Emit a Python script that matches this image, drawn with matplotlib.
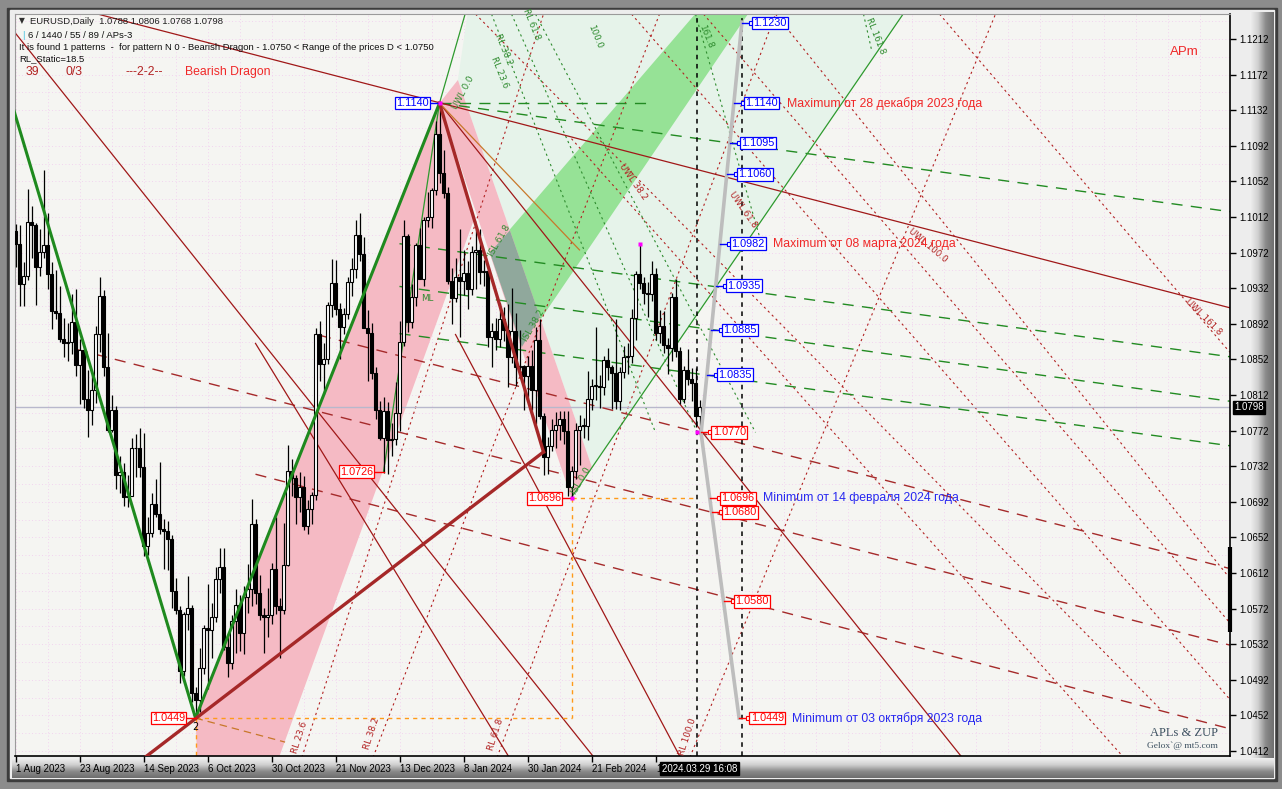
import numpy as np
import matplotlib
matplotlib.use("Agg")
import matplotlib.pyplot as plt
from matplotlib.patches import Rectangle, Polygon
import matplotlib.transforms as mtransforms

# ---- daily bars EURUSD, bar index 0 = 1 Aug 2023 ----
opens = [1.0996, 1.0982, 1.0937, 1.0946, 1.1006, 1.1003, 1.0956, 1.0973, 1.0981, 1.0948,
         1.0906, 1.0904, 1.0875, 1.0871, 1.0872, 1.0894, 1.0846, 1.0863, 1.0808, 1.0795,
         1.0818, 1.0880, 1.0923, 1.0843, 1.0773, 1.0795, 1.0722, 1.0726, 1.0697, 1.0699,
         1.0752, 1.0753, 1.0731, 1.0642, 1.0657, 1.0690, 1.0678, 1.0662, 1.0659, 1.0650,
         1.0592, 1.0570, 1.0502, 1.0566, 1.0573, 1.0477, 1.0469, 1.0505, 1.0550, 1.0548,
         1.0563, 1.0605, 1.0619, 1.0529, 1.0511, 1.0558, 1.0576, 1.0545, 1.0585, 1.0594,
         1.0667, 1.0590, 1.0565, 1.0563, 1.0565, 1.0616, 1.0575, 1.0570, 1.0621, 1.0727,
         1.0719, 1.0697, 1.0709, 1.0665, 1.0684, 1.0700, 1.0880, 1.0847, 1.0853, 1.0913,
         1.0938, 1.0909, 1.0888, 1.0903, 1.0939, 1.0954, 1.0992, 1.0971, 1.0887, 1.0882,
         1.0837, 1.0795, 1.0764, 1.0794, 1.0762, 1.0763, 1.0792, 1.0872, 1.0991, 1.0894,
         1.0922, 1.0980, 1.0942, 1.1009, 1.1012, 1.1042, 1.1105, 1.1062, 1.1039, 1.0940,
         1.0921, 1.0945, 1.0940, 1.0949, 1.0931, 1.0973, 1.0975, 1.0950, 1.0951, 1.0877,
         1.0884, 1.0875, 1.0897, 1.0885, 1.0855, 1.0884, 1.0843, 1.0845, 1.0833, 1.0845,
         1.0818, 1.0874, 1.0788, 1.0742, 1.0755, 1.0773, 1.0778, 1.0785, 1.0772, 1.0709,
         1.0727, 1.0773, 1.0777, 1.0777, 1.0808, 1.0822, 1.0822, 1.0821, 1.0851, 1.0844,
         1.0837, 1.0805, 1.0838, 1.0855, 1.0856, 1.0899, 1.0948, 1.0938, 1.0927, 1.0926,
         1.0948, 1.0882, 1.0889, 1.0868, 1.0865, 1.0922, 1.0861, 1.0808, 1.0840, 1.0830,
         1.0826, 1.0788]
highs = [1.1004, 1.1003, 1.0961, 1.1043, 1.1024, 1.1005, 1.0998, 1.1065, 1.1016, 1.0962,
         1.0953, 1.0934, 1.0898, 1.0893, 1.0925, 1.0931, 1.0875, 1.0864, 1.0840, 1.0834,
         1.0890, 1.0945, 1.0930, 1.0882, 1.0812, 1.0800, 1.0744, 1.0736, 1.0722, 1.0764,
         1.0768, 1.0775, 1.0769, 1.0675, 1.0702, 1.0718, 1.0737, 1.0673, 1.0671, 1.0655,
         1.0606, 1.0575, 1.0568, 1.0609, 1.0576, 1.0484, 1.0528, 1.0554, 1.0600, 1.0578,
         1.0619, 1.0640, 1.0640, 1.0540, 1.0565, 1.0594, 1.0587, 1.0597, 1.0622, 1.0695,
         1.0673, 1.0610, 1.0573, 1.0595, 1.0623, 1.0675, 1.0584, 1.0668, 1.0756, 1.0740,
         1.0722, 1.0726, 1.0721, 1.0694, 1.0703, 1.0887, 1.0895, 1.0870, 1.0917, 1.0965,
         1.0964, 1.0915, 1.0910, 1.0945, 1.0966, 1.1009, 1.1017, 1.0990, 1.0907, 1.0893,
         1.0843, 1.0805, 1.0810, 1.0804, 1.0781, 1.0827, 1.0895, 1.1009, 1.0993, 1.0937,
         1.0983, 1.1000, 1.1012, 1.1040, 1.1045, 1.1120, 1.1140, 1.1087, 1.1046, 1.0955,
         1.0966, 1.0999, 1.0975, 1.0963, 1.0979, 1.0998, 1.0999, 1.0964, 1.0952, 1.0893,
         1.0898, 1.0915, 1.0911, 1.0914, 1.0932, 1.0904, 1.0885, 1.0846, 1.0856, 1.0863,
         1.0888, 1.0897, 1.0792, 1.0765, 1.0785, 1.0793, 1.0794, 1.0794, 1.0794, 1.0732,
         1.0780, 1.0790, 1.0786, 1.0839, 1.0830, 1.0888, 1.0835, 1.0856, 1.0865, 1.0846,
         1.0897, 1.0843, 1.0867, 1.0870, 1.0909, 1.0951, 1.0982, 1.0945, 1.0939, 1.0963,
         1.0955, 1.0907, 1.0906, 1.0876, 1.0927, 1.0942, 1.0866, 1.0845, 1.0864, 1.0842,
         1.0842, 1.0806]
lows = [1.0956, 1.0912, 1.0912, 1.0941, 1.0966, 1.0913, 1.0946, 1.0966, 1.0931, 1.0886,
        1.0897, 1.0872, 1.0855, 1.0850, 1.0858, 1.0833, 1.0802, 1.0797, 1.0765, 1.0778,
        1.0803, 1.0860, 1.0833, 1.0771, 1.0770, 1.0706, 1.0702, 1.0687, 1.0686, 1.0699,
        1.0720, 1.0720, 1.0631, 1.0632, 1.0652, 1.0675, 1.0656, 1.0616, 1.0615, 1.0573,
        1.0566, 1.0488, 1.0496, 1.0548, 1.0467, 1.0449, 1.0456, 1.0498, 1.0482, 1.0516,
        1.0557, 1.0590, 1.0525, 1.0495, 1.0504, 1.0522, 1.0524, 1.0521, 1.0567, 1.0575,
        1.0577, 1.0559, 1.0522, 1.0540, 1.0555, 1.0566, 1.0517, 1.0566, 1.0620, 1.0698,
        1.0667, 1.0680, 1.0660, 1.0656, 1.0667, 1.0694, 1.0828, 1.0813, 1.0847, 1.0900,
        1.0902, 1.0852, 1.0880, 1.0897, 1.0923, 1.0944, 1.0963, 1.0887, 1.0828, 1.0830,
        1.0785, 1.0761, 1.0724, 1.0723, 1.0743, 1.0756, 1.0772, 1.0867, 1.0883, 1.0887,
        1.0912, 1.0944, 1.0934, 1.1001, 1.1000, 1.1037, 1.1050, 1.1033, 1.0937, 1.0892,
        1.0917, 1.0877, 1.0924, 1.0909, 1.0924, 1.0931, 1.0937, 1.0935, 1.0866, 1.0844,
        1.0863, 1.0866, 1.0873, 1.0821, 1.0848, 1.0822, 1.0838, 1.0795, 1.0807, 1.0795,
        1.0779, 1.0785, 1.0722, 1.0723, 1.0749, 1.0752, 1.0761, 1.0757, 1.0698, 1.0696,
        1.0718, 1.0733, 1.0764, 1.0762, 1.0795, 1.0806, 1.0797, 1.0812, 1.0829, 1.0796,
        1.0796, 1.0795, 1.0831, 1.0836, 1.0848, 1.0874, 1.0931, 1.0914, 1.0900, 1.0918,
        1.0874, 1.0871, 1.0859, 1.0836, 1.0850, 1.0855, 1.0802, 1.0803, 1.0823, 1.0805,
        1.0776, 1.0768]
closes = opens[1:] + [1.0798]

date_ticks = [0, 16, 32, 48, 64, 80, 96, 112, 128, 144, 160]
# the last tick label ("14 Mar 2024") is hidden by the cursor box, only its "1" shows
date_labels = ["1 Aug 2023", "23 Aug 2023", "14 Sep 2023", "6 Oct 2023", "30 Oct 2023",
               "21 Nov 2023", "13 Dec 2023", "8 Jan 2024", "30 Jan 2024", "21 Feb 2024", "1"]
price_ticks = [1.0412, 1.0452, 1.0492, 1.0532, 1.0572, 1.0612, 1.0652, 1.0692, 1.0732,
               1.0772, 1.0812, 1.0852, 1.0892, 1.0932, 1.0972, 1.1012, 1.1052, 1.1092,
               1.1132, 1.1172, 1.1212]
last_price = 1.0798

# ZUP pivots (bar, price)
piv_x = (45, 1.0449)
piv_a = (106, 1.1140)
piv_b = (139, 1.0696)
piv_c = (156, 1.0982)
piv_d = (170.4, 1.0770)
piv_e = (92, 1.0726)

# analysis objects, endpoints as (bar, price)
green_zigzag = [(-10, 1.1276), piv_x, piv_a]
red_thick = [[(32.4, 1.0405), (132, 1.0748)], [piv_a, (132, 1.0748)]]
red_solid = [[(-0.1, 1.1219), (144.6, 1.0405)],
             [(0, 1.1264), (303.6, 1.0910)],
             [piv_a, (236.6, 1.0405)],
             [(60, 1.0870), (123.4, 1.0405)],
             [(110, 1.0880), (166.2, 1.0405)]]
red_longdash = [[(15.4, 1.0863), (303.6, 1.0531)],
                [(76.1, 1.0879), (303.6, 1.0617)],
                [(60, 1.0723), (303.6, 1.0437)]]
green_dash = [[piv_a, (159, 1.1140)],
              [piv_a, (303.6, 1.1018)],
              [(96, 1.0982), (303.6, 1.0855)],
              [(96, 1.0934), (303.6, 1.0805)],
              [(96, 1.0881), (303.6, 1.0755)]]
green_thin = [[(139, 1.0697), (221.9, 1.1240)],
              [piv_e, piv_a],
              [piv_a, (112.4, 1.1240)]]
red_dotted = [[(71.6, 1.0405), (132, 1.1240)],
              [(89.4, 1.0405), (161, 1.1240)],
              [(120.4, 1.0405), (190, 1.1240)],
              [(168.6, 1.0405), (245, 1.1240)],
              [(139, 1.1100), (277, 1.0405)],
              [(115, 1.1240), (286, 1.0460)],
              [(154, 1.1240), (303.6, 1.0470)],
              [(190, 1.1240), (303.6, 1.0606)],
              [(231, 1.1240), (303.6, 1.0860)],
              [(172, 1.1240), (303.6, 1.0556)]]
green_dotted = [[(124, 1.1240), (170.4, 1.0770)],
                [(119, 1.1240), (160, 1.0770)],
                [(130, 1.1240), (185, 1.0770)],
                [(170, 1.1240), (186, 1.0990)],
                [(212, 1.1240), (214, 1.1200)]]

pink_a = [piv_x, piv_a, (114.6, 1.1009), (65.9, 1.0405), (45.4, 1.0405)]
pink_b = [piv_a, (110.6, 1.1166), (144.1, 1.0731), (138.9, 1.0697)]
green_band = [(118.6, 1.0972), (169.9, 1.1240), (183.1, 1.1240), (126.6, 1.0866)]
overlap = [(118.6, 1.0972), (123.6, 1.0997), (131.1, 1.0900), (126.6, 1.0866)]
mint = [(110.6, 1.1166), (113, 1.1240), (221.9, 1.1240), (144.1, 1.0731)]

gray_up = [(171.4, 1.0769), (181.6, 1.1231)]
gray_dn = [(171.4, 1.0769), (180.9, 1.0449)]
vlines_black = [170.4, 181.6]

level_prices = [1.1230, 1.1140, 1.1095, 1.1060, 1.0982, 1.0935, 1.0885, 1.0835,
                1.0770, 1.0696, 1.0680, 1.0580, 1.0449]

notes = [(1.1140, "Maximum от 28 декабря 2023 года", "#f02828"),
         (1.0982, "Maximum от 08 марта 2024 года", "#f02828"),
         (1.0696, "Minimum от 14 февраля 2024 года", "#2828f0"),
         (1.0449, "Minimum от 03 октября 2023 года", "#2828f0")]

pivot_boxes = [(piv_a, "1.1140", "#0000ff"), (piv_e, "1.0726", "#ff0000"),
               (piv_b, "1.0696", "#ff0000"), (piv_x, "1.0449", "#ff0000")]

W, H = 1282, 789
fig = plt.figure(figsize=(W / 100, H / 100), dpi=100)
fig.patch.set_facecolor("#8c8c8c")

# window frame
bg = fig.add_axes([0, 0, 1, 1])
bg.set_xlim(0, W)
bg.set_ylim(H, 0)
bg.axis("off")
bg.add_patch(Rectangle((7, 8), 1270, 773, color="#3c3c3c"))
bg.add_patch(Rectangle((10, 10), 1264, 768, color="#ededed"))
grad = np.linspace(0, 1, 64)
cm = matplotlib.colors.LinearSegmentedColormap.from_list("bev", ["#f0f0f0", "#d0d0d0", "#8a8a8a", "#6e6e6e"])
bg.imshow(grad[None, :], extent=(1250, 1274, 778, 12), cmap=cm, aspect="auto", zorder=2)
bg.imshow(grad[:, None], extent=(12, 1274, 778, 758), cmap=cm, aspect="auto", zorder=2)

fx = lambda v: v / W
fy = lambda v: 1 - v / H

ax = fig.add_axes([fx(15), fy(756), fx(1230) - fx(15), fy(14) - fy(756)])
ax.set_facecolor("#f5f5f2")
ax.set_xlim(-0.125, 303.625)
ax.set_ylim(1.04064, 1.12401)

# grid (pink dots)
for p in np.arange(1.0412, 1.1240, 0.0020):
    ax.axhline(p, color="#f2c8ef", lw=0.6, ls=(0, (1, 3)), zorder=0.5)
for t in range(0, 304, 8):
    ax.axvline(t, color="#f2c8ef", lw=0.6, ls=(0, (1, 3)), zorder=0.5)


def poly(pts, color, z):
    ax.add_patch(Polygon(pts, closed=True, facecolor=color, edgecolor="none", zorder=z))


def seg(pts, **kw):
    xs, ys = zip(*pts)
    ax.plot(xs, ys, **kw)


poly(mint, "#e6f3ea", 1)
poly(green_band, "#96e296", 1.2)
poly(pink_a, "#f5bac4", 1.3)
poly(pink_b, "#f5bac4", 1.3)
poly(overlap, "#90a89c", 1.4)

for s in red_dotted:
    seg(s, color="#b22222", lw=0.8, ls=(0, (2, 3)), zorder=2)
for s in green_dotted:
    seg(s, color="#2e8b2e", lw=0.8, ls=(0, (2, 3)), zorder=2)
for s in red_longdash:
    seg(s, color="#a52a2a", lw=1.0, ls=(0, (8, 6)), zorder=2.2)
for s in green_dash:
    seg(s, color="#228b22", lw=1.0, ls=(0, (8, 6)), zorder=2.2)
for s in red_solid:
    seg(s, color="#a01818", lw=0.9, zorder=2.3)
for s in green_thin:
    seg(s, color="#2e9a2e", lw=0.9, zorder=2.3)

ax.axhline(last_price, color="#b8b8cc", lw=1, zorder=2.1)
for v in vlines_black:
    ax.axvline(v, color="black", lw=1.1, ls=(0, (3, 3)), zorder=2.5)

# orange helper lines
seg([piv_x, (piv_b[0], piv_x[1])], color="#ff9a1a", lw=1, ls=(0, (3, 3)), zorder=2.4)
seg([piv_x, (piv_x[0], 1.0405)], color="#ff9a1a", lw=1, ls=(0, (3, 3)), zorder=2.4)
seg([piv_b, (piv_d[0], piv_b[1])], color="#ff9a1a", lw=1, ls=(0, (3, 3)), zorder=2.4)
seg([piv_b, (piv_b[0], piv_x[1])], color="#ff9a1a", lw=1, ls=(0, (3, 3)), zorder=2.4)
seg([piv_a, (141, 1.0975)], color="#c8782a", lw=0.9, zorder=2.4)
seg([piv_x, (67.4, 1.0422)], color="#c8782a", lw=0.9, ls=(0, (6, 4)), zorder=2.4)

# candles
idx = np.arange(len(opens))
o = np.array(opens); c = np.array(closes); hi = np.array(highs); lo = np.array(lows)
ax.vlines(idx, lo, hi, color="black", lw=0.9, zorder=3.5)
body_lo = np.minimum(o, c)
body_h = np.maximum(np.abs(c - o), 0.00008)
face = np.where(c >= o, "white", "black")
ax.bar(idx, body_h, bottom=body_lo, width=0.66, color=face, edgecolor="black", lw=0.8, zorder=3.6)

# thick pattern lines
seg(green_zigzag, color="#1f8a1f", lw=2.2, zorder=4)
for s in red_thick:
    seg(s, color="#a52828", lw=2.4, zorder=4)

# gray projection lines
seg(gray_up, color="#bdbdbd", lw=2.6, zorder=4.2)
seg(gray_dn, color="#bdbdbd", lw=2.6, zorder=4.2)


# level labels on the gray lines
def gray_at(p):
    (x0, y0), (x1, y1) = gray_up if p >= gray_up[0][1] else gray_dn
    return x0 + (p - y0) / (y1 - y0) * (x1 - x0)


for p in level_prices:
    col = "#0000ff" if p > last_price else "#ff0000"
    gx = gray_at(p)
    ax.plot([gx, gx + 2.3], [p, p], color=col, lw=1, zorder=5)
    ax.plot(gx + 2.3, p, marker="s", ms=2.6, mfc="white", mec=col, mew=0.8, zorder=5.1)
    ax.text(gx + 2.9, p, "%.4f" % p, color=col, fontsize=7.8, va="center", ha="left",
            family="Liberation Sans", zorder=5.2,
            bbox=dict(boxstyle="square,pad=0.12", fc="white", ec=col, lw=0.9))

for p, t, col in notes:
    ax.text(gray_at(p) + 13.2, p, t, color=col, fontsize=8.8, va="center", ha="left",
            family="Liberation Sans", zorder=5)

for (bx, by), t, col in pivot_boxes:
    ax.plot([bx - 2.3, bx], [by, by], color=col, lw=1, zorder=5)
    ax.text(bx - 2.6, by, t, color=col, fontsize=7.8, va="center", ha="right",
            family="Liberation Sans", zorder=5.2,
            bbox=dict(boxstyle="square,pad=0.12", fc="white", ec=col, lw=0.9))

for px_, py_ in [piv_a, piv_b, piv_d, piv_c]:
    ax.plot(px_, py_, marker="s", ms=2.2, color="#ff00ff", mec="none", zorder=5)
ax.text(piv_x[0], piv_x[1] - 0.0004, "2", fontsize=7, ha="center", va="top", zorder=5)

# small rotated captions
caps = [(112, 1.1152, "UWL 0.0", "#2e8b2e", 62), (121, 1.1175, "RL 23.6", "#2e8b2e", -68),
        (122, 1.1200, "RL 38.2", "#2e8b2e", -68), (129, 1.1228, "RL 61.8", "#2e8b2e", -68),
        (145, 1.1215, "100.0", "#2e8b2e", -68), (172.5, 1.1215, "161.8", "#2e8b2e", -68),
        (215, 1.1215, "RL 161.8", "#2e8b2e", -68), (121, 1.0985, "ISL 61.8", "#2e8b2e", 60),
        (129.5, 1.0890, "ISL 38.2", "#2e8b2e", 60), (141.5, 1.0715, "ISL 0.0", "#2e8b2e", 60),
        (103, 1.0920, "ML", "#2e8b2e", 0),
        (154.5, 1.1052, "UWL 38.2", "#b22222", -55), (182, 1.1020, "UWL 61.8", "#b22222", -55),
        (228, 1.0980, "UWL 100.0", "#b22222", -40), (297, 1.0900, "UWL 161.8", "#b22222", -45),
        (71, 1.0427, "RL 23.6", "#b22222", 72), (89, 1.0432, "RL 38.2", "#b22222", 72),
        (120, 1.0430, "RL 61.8", "#b22222", 72), (168, 1.0428, "RL 100.0", "#b22222", 72)]
for x_, y_, t, col, r in caps:
    ax.text(x_, y_, t, color=col, fontsize=6.3, rotation=r, ha="center", va="center",
            family="DejaVu Sans", zorder=4.8)

# axes styling
for side in ["top", "left"]:
    ax.spines[side].set_color("#9a9a9a")
for side in ["bottom", "right"]:
    ax.spines[side].set_color("black")
    ax.spines[side].set_linewidth(1.2)
ax.yaxis.tick_right()
ax.set_yticks(price_ticks)
ax.set_yticklabels(["%.4f" % v for v in price_ticks], family="Liberation Sans", fontsize=7)
ax.set_xticks(date_ticks)
ax.set_xticklabels(date_labels, family="Liberation Sans", fontsize=7, ha="left")
ax.tick_params(axis="y", direction="out", length=4, width=1, pad=3, colors="black")
ax.tick_params(axis="x", direction="out", length=4, width=1, pad=2, colors="black")
for lab in ax.get_xticklabels():
    lab.set_transform(lab.get_transform() + mtransforms.ScaledTranslation(1 / 100, 0, fig.dpi_scale_trans))

ax.annotate("%.4f" % last_price, xy=(1, last_price), xycoords=("axes fraction", "data"),
            xytext=(3, 0), textcoords="offset points", va="center", ha="left", color="white",
            fontsize=7, family="Liberation Sans", annotation_clip=False,
            bbox=dict(boxstyle="square,pad=0.15", fc="black", ec="black"))
ax.plot([303.6, 303.6], [1.0641, 1.0546], color="black", lw=3, clip_on=False,
        solid_capstyle="butt", zorder=6)
ax.annotate("2024.03.29 16:08", xy=(161.6, 0), xycoords=("data", "axes fraction"),
            xytext=(0, -9), textcoords="offset points", va="center", ha="left", color="white",
            fontsize=7, family="Liberation Sans", annotation_clip=False,
            bbox=dict(boxstyle="square,pad=0.2", fc="black", ec="black"))

# header texts
fig.text(fx(19), fy(21), "▼", fontsize=5.5, color="#303030", va="center", family="DejaVu Sans")
fig.text(fx(30), fy(21), "EURUSD,Daily  1.0788 1.0806 1.0768 1.0798", fontsize=6.8,
         color="#202020", va="center", family="Liberation Sans")
fig.text(fx(22), fy(35), "|", fontsize=6.8, color="#40c0e0", va="center", family="Liberation Sans")
fig.text(fx(28), fy(35), "6 / 1440 / 55 / 89 / APs-3", fontsize=6.8, color="#101010",
         va="center", family="Liberation Sans")
fig.text(fx(19), fy(47), "It is found 1 patterns  -  for pattern N 0 - Bearish Dragon - 1.0750 < "
         "Range of the prices D < 1.0750", fontsize=6.8, color="#101010", va="center",
         family="Liberation Sans")
fig.text(fx(19), fy(59), "RL_Static=18.5", fontsize=6.8, color="#101010", va="center",
         family="Liberation Sans")
for xx, t, col in [(26, "39", "#b22222"), (65, "0/3", "#b22222"), (125, "---2-2--", "#b22222"),
                   (185, "Bearish Dragon", "#f02828")]:
    fig.text(fx(xx), fy(72), t, fontsize=8.8, color=col, va="center", family="Liberation Sans")
fig.text(fx(1170), fy(52), "APm", fontsize=9.5, color="#f02828", va="center", family="Liberation Sans")
fig.text(fx(1150), fy(733), "APLs & ZUP", fontsize=9, color="#3c5060", va="center",
         family="Liberation Serif")
fig.text(fx(1147), fy(746), "Gelox`@ mt5.com", fontsize=6.8, color="#3c5060", va="center",
         family="Liberation Serif")

fig.savefig("out.png", dpi=100, facecolor=fig.get_facecolor())
